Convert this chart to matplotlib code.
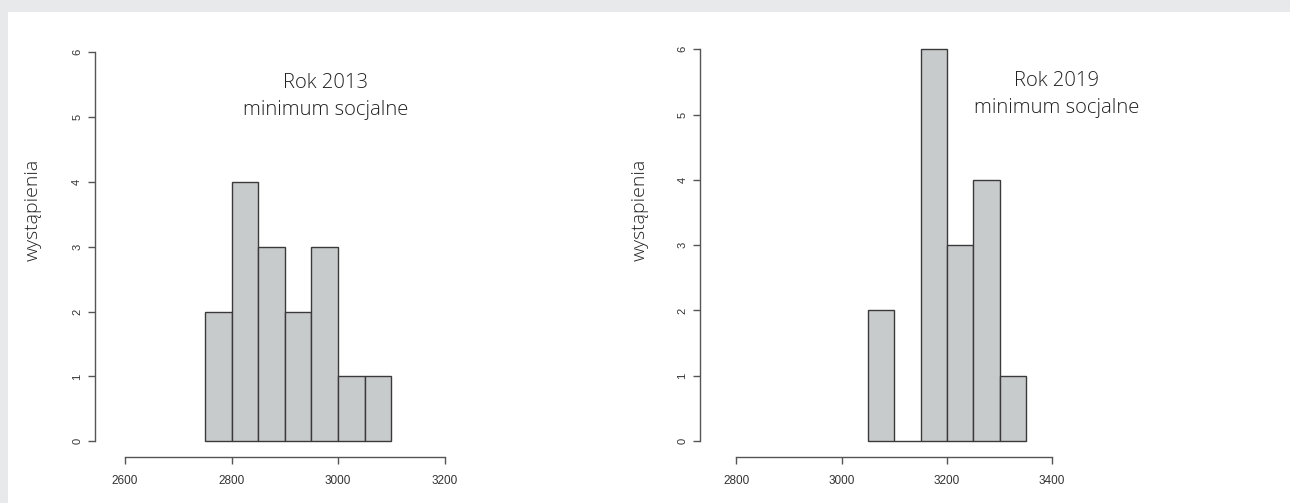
import matplotlib
matplotlib.use("Agg")
import matplotlib.pyplot as plt
from matplotlib.patches import Rectangle
import numpy as np

# Data
edges_2013 = [2750, 2800, 2850, 2900, 2950, 3000, 3050, 3100]
counts_2013 = [2, 4, 3, 2, 3, 1, 1]
edges_2019 = [3050, 3100, 3150, 3200, 3250, 3300, 3350]
counts_2019 = [2, 0, 6, 3, 4, 1]
xticks_2013 = [2600, 2800, 3000, 3200]
xticks_2019 = [2800, 3000, 3200, 3400]
yticks = [0, 1, 2, 3, 4, 5, 6]
titles = ["Rok 2013\nminimum socjalne", "Rok 2019\nminimum socjalne"]
ylabel = "wystąpienia"

W, H = 1290, 503
fig = plt.figure(figsize=(W / 100, H / 100), dpi=100)
fig.patch.set_facecolor("#e8e9eb")
fig.add_artist(Rectangle((8 / W, 0), 1 - 8 / W, (H - 12) / H, transform=fig.transFigure,
                         facecolor="white", edgecolor="none", zorder=0))

TITLE_FONT = ["Open Sans", "DejaVu Sans"]
TICK_FONT = ["Liberation Sans", "DejaVu Sans"]
AX_COL = "#555555"
TXT_COL = "#333333"


def make_axes(left_px, right_px, top_px, bottom_px):
    return fig.add_axes([left_px / W, (H - bottom_px) / H,
                         (right_px - left_px) / W, (bottom_px - top_px) / H])


def draw(ax, edges, counts, xticks, xlim, title, title_x):
    edges = np.asarray(edges, dtype=float)
    ax.bar(edges[:-1], counts, width=np.diff(edges), align="edge",
           color="#c8cbcc", edgecolor="#3a3a3a", linewidth=1.0, zorder=2)
    ax.set_xlim(*xlim)
    ax.set_ylim(-0.24, 6.24)
    ax.set_facecolor("none")
    for s in ["top", "right"]:
        ax.spines[s].set_visible(False)
    ax.spines["left"].set_bounds(0, 6)
    ax.spines["bottom"].set_bounds(xticks[0], xticks[-1])
    for s in ["left", "bottom"]:
        ax.spines[s].set_color(AX_COL)
        ax.spines[s].set_linewidth(1.0)
    ax.set_xticks(xticks)
    ax.set_yticks(yticks)
    ax.tick_params(axis="both", length=5, width=1.0, color=AX_COL,
                   labelcolor=TXT_COL, labelsize=8.5)
    ax.tick_params(axis="x", pad=8)
    ax.tick_params(axis="y", pad=4, labelsize=8)
    for lab in ax.get_xticklabels():
        lab.set_fontfamily(TICK_FONT)
    for lab in ax.get_yticklabels():
        lab.set_fontfamily(TICK_FONT)
        lab.set_rotation(90)
        lab.set_verticalalignment("center")
    ax.text(title_x, 4.95, title, ha="center", va="bottom", fontsize=14.6,
            family=TITLE_FONT, fontweight="light", color="#222222", linespacing=1.45)


ax1 = make_axes(94.7, 475, 36.1, 457)
draw(ax1, edges_2013, counts_2013, xticks_2013, (2543, 3257), titles[0], 2977)
ax2 = make_axes(700, 1088.5, 33.7, 456.7)
draw(ax2, edges_2019, counts_2019, xticks_2019, (2731, 3469), titles[1], 3408)

for xp in (33, 640):
    fig.text(xp / W, (H - 210) / H, ylabel, rotation=90, ha="center", va="center",
             fontsize=14, family=TITLE_FONT, fontweight="light", color="#222222")

fig.savefig("out.png", dpi=100, facecolor=fig.get_facecolor())
